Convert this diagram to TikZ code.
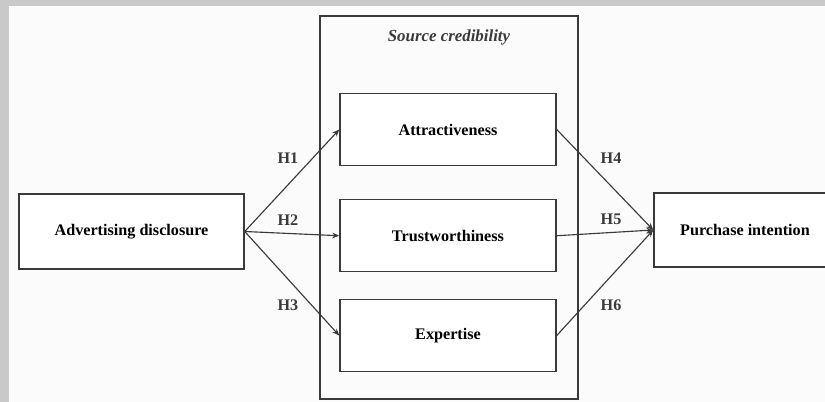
\documentclass[tikz,border=0pt]{standalone}
\usepackage{fontspec}
\setmainfont{Liberation Serif}
\usetikzlibrary{arrows.meta, positioning}
\definecolor{framegray}{HTML}{C9C9C9}
\definecolor{paper}{HTML}{FBFBFB}
\definecolor{ink}{HTML}{3A3A3A}

\begin{document}
\begin{tikzpicture}[
    x=0.025cm, y=-0.025cm,
    node distance=0.82cm,
    >={Stealth[length=5pt, width=4pt]},
    construct/.style={draw=ink, line width=1pt, fill=white, minimum width=5.4cm, minimum height=1.8cm, align=center, font=\fontsize{11.5}{13}\selectfont\bfseries},
    hyp/.style={font=\fontsize{11.5}{13}\selectfont\bfseries, text=ink},
    flow/.style={->, draw=ink, line width=0.8pt}
  ]
    \useasboundingbox (0,0) rectangle (825,402);
    \clip (0,0) rectangle (825,402);
    % Background
    \fill[paper] (0,0) rectangle (825,402);
    \fill[framegray] (0,0) rectangle (825,6);
    \fill[framegray] (0,0) rectangle (9,402);

    % Source credibility frame
    \node[draw=ink, line width=1pt, minimum width=6.45cm, minimum height=9.575cm] (source) at (449,207.5) {};
    \node[font=\fontsize{12}{14}\selectfont\bfseries\itshape, text=ink] (sourcetitle) at (449,37) {Source credibility};

    % Constructs
    \node[construct] (attr) at (448,129.5) {Attractiveness};
    \node[construct, below=of attr] (trust) {Trustworthiness};
    \node[construct, below=0.66cm of trust] (expert) {Expertise};
    \node[construct, minimum width=5.625cm, minimum height=1.875cm] (adv) at (131.5,231.5) {Advertising disclosure};
    \node[construct, minimum width=5cm, minimum height=1.85cm] (purch) at (754,230) {Purchase intention\hspace{0.45cm}};

    % Paths
    \draw[flow] (adv.east) -- (attr.west);
    \draw[flow] (adv.east) -- (trust.west);
    \draw[flow] (adv.east) -- (expert.west);
    \draw[flow] (attr.east) -- (purch.west);
    \draw[flow] (trust.east) -- (purch.west);
    \draw[flow] (expert.east) -- (purch.west);

    % Hypotheses
    \node[hyp] (h1) at (288,158) {H1};
    \node[hyp] (h2) at (288,220) {H2};
    \node[hyp] (h3) at (288,305) {H3};
    \node[hyp] (h4) at (611,158) {H4};
    \node[hyp] (h5) at (611,219) {H5};
    \node[hyp] (h6) at (611,305) {H6};
  \end{tikzpicture}
\end{document}
